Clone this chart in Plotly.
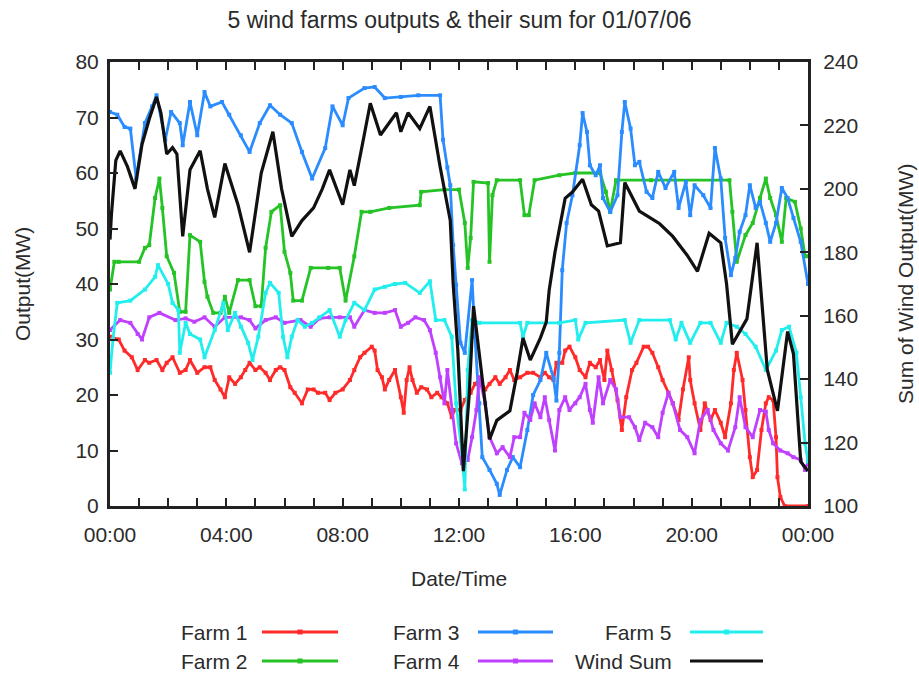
import pandas as pd
import plotly.graph_objects as go

# ---------------- data (hours after midnight, MW) ----------------
sum_t = [0, 0.05, 0.2, 0.35, 0.6, 0.86, 1.1, 1.35, 1.6, 1.75, 1.95, 2.15, 2.3, 2.5, 2.75, 3.1, 3.35, 3.6, 3.95,
         4.4, 4.8, 5.2, 5.6, 5.9, 6.25, 6.6, 7.0, 7.3, 7.55, 8.0, 8.25, 8.4, 8.7, 8.95, 9.3, 9.6, 9.85, 10.0,
         10.25, 10.65, 11.0, 11.35, 11.7, 11.8, 11.96, 12.15, 12.35, 12.5, 12.7, 13.05, 13.3, 13.75, 14.0, 14.2,
         14.45, 14.8, 15.0, 15.1, 15.3, 15.5, 15.65, 15.9, 16.25, 16.55, 16.8, 17.1, 17.55, 17.7, 18.2, 18.55,
         18.9, 19.35, 19.85, 20.2, 20.6, 21.0, 21.2, 21.4, 21.9, 22.25, 22.6, 22.95, 23.3, 23.5, 23.75, 24.0]
sum_v = [184, 192, 209, 212, 207, 200, 214, 222, 229, 224, 211, 213, 211, 185, 206, 212, 200, 191, 208,
         195, 180, 205, 218, 200, 185, 190, 194, 200, 206, 195, 206, 201, 215, 227, 217, 221, 224, 218,
         224, 219, 226, 207, 190, 170, 149, 111, 135, 163, 148, 121, 127, 130, 142, 153,
         146, 153, 158, 168, 180, 190, 197, 199, 203, 195, 193, 182, 183, 202, 193, 191,
         189, 185, 179, 174, 186, 183, 170, 151, 159, 183, 143, 130, 155, 148, 114, 111]

f3_t = [0, 0.25, 0.5, 0.7, 0.9, 1.2, 1.45, 1.6, 1.9, 2.1, 2.4, 2.5, 2.75, 3.0, 3.25, 3.45, 3.85, 4.1, 4.5, 4.8,
        5.15, 5.5, 5.85, 6.25, 6.6, 6.95, 7.4, 7.65, 8.0, 8.2, 8.75, 9.1, 9.45, 10.0, 10.6, 11.35, 11.45, 11.6,
        11.7, 11.8, 11.9, 12.05, 12.2, 12.45, 12.55, 12.7, 12.8, 13.05, 13.3, 13.4, 13.65, 13.85, 14.1, 14.35,
        14.55, 14.8, 15.0, 15.25, 15.35, 15.45, 15.55, 15.7, 15.9, 16.15, 16.25, 16.4, 16.5, 16.7, 16.85, 16.95,
        17.2, 17.45, 17.6, 17.7, 17.9, 18.05, 18.2, 18.45, 18.65, 18.85, 19.1, 19.4, 19.55, 19.8, 19.95, 20.1,
        20.4, 20.65, 20.8, 21.0, 21.15, 21.35, 21.5, 21.65, 21.85, 22.0, 22.2, 22.35, 22.55, 22.7, 22.9, 23.1,
        23.3, 23.5, 23.75, 24.0]
f3_v = [71, 70.5, 68.3, 68, 59, 69, 72, 74, 66, 71, 69, 65, 72.8, 66.8, 74.6, 72, 72.8, 70.5, 66.8, 63.8,
        69, 72.2, 70.5, 69, 63.8, 59, 64.5, 72, 68.6, 73.5, 75.3, 75.5, 73.5, 73.7, 74, 74, 66, 61,
        57.8, 47, 39.8, 29.4, 27.6, 40.7, 30.5, 18.5, 8.8, 6.5, 4, 2, 6.5, 8.8, 7, 13.7,
        20, 22.7, 27.6, 23, 19, 27.6, 42.5, 51, 56, 65, 70.8, 67.4, 61.4, 59.6, 61.4, 55.5,
        53, 56, 67.4, 72.8, 68, 61.4, 62, 56.6, 55.5, 60.2, 57.3, 60.2, 53.7, 58.4, 52.4, 57.8,
        56, 53.7, 64.5, 59, 48.3, 41.6, 44.7, 49.4, 52.4, 57.8, 53.7, 54.8, 51, 47.6, 51, 57.3,
        55.5, 51.9, 47.6, 40]

f2_t = [0, 0.15, 0.3, 1.0, 1.2, 1.35, 1.55, 1.7, 1.8, 1.95, 2.2, 2.4, 2.6, 2.75, 3.1, 3.25, 3.35, 3.55, 3.8,
        3.95, 4.1, 4.4, 4.8, 5.0, 5.2, 5.35, 5.55, 5.85, 6.0, 6.2, 6.3, 6.6, 6.9, 7.5, 7.9, 8.1, 8.4, 8.65,
        8.95, 9.6, 10.65, 10.7, 11.5, 12.0, 12.2, 12.3, 12.4, 12.5, 13.0, 13.05, 13.15, 13.3, 14.1, 14.25,
        14.4, 14.6, 15.45, 16.0, 16.85, 17.05, 17.2, 17.4, 18.6, 21.3, 21.4, 21.55, 21.85, 22.1, 22.35, 22.55,
        22.7, 22.9, 23.1, 23.25, 23.55, 23.75, 23.9, 24.0]
f2_v = [39, 44, 44, 44, 46.5, 47, 55.5, 59, 53.7, 45, 42, 35, 35, 48.8, 47.6, 40.4, 37.7, 34.8, 34.8,
        37.7, 34.8, 40.7, 40.7, 36, 36, 46.5, 53, 54.2, 45.8, 42, 37, 37, 42.9, 42.9, 42.9, 37, 45, 53,
        53, 53.7, 54.2, 56.6, 57, 57, 51, 42.9, 48.3, 58.4, 58.2, 44, 56, 58.7, 58.7, 52.4,
        52.4, 58.7, 59.6, 60, 60, 56.6, 53, 58.7, 58.7, 58.7, 53, 44, 48.8, 51, 55.5, 59,
        55.5, 52.4, 47.6, 55.5, 54.8, 50, 45, 45]

f5_t = [0, 0.1, 0.25, 0.7, 1.2, 1.55, 1.65, 2.0, 2.15, 2.35, 2.4, 2.6, 2.75, 3.1, 3.25, 3.6, 3.9, 4.05, 4.3,
        4.5, 4.75, 4.9, 5.1, 5.35, 5.5, 5.8, 5.95, 6.1, 6.25, 6.45, 6.7, 6.95, 7.2, 7.55, 7.9, 8.1, 8.4, 8.75,
        9.1, 9.45, 9.8, 10.15, 10.65, 11.0, 11.2, 11.5, 11.75, 11.9, 12.1, 12.2, 12.3, 12.45, 12.7, 14.1, 14.2,
        14.35, 15.45, 16.0, 16.1, 16.35, 17.7, 17.9, 18.2, 19.25, 19.45, 19.65, 19.95, 20.3, 20.65, 21.0, 21.2,
        21.55, 21.85, 22.2, 22.55, 22.9, 23.1, 23.35, 23.6, 23.75, 23.9, 24.0]
f5_v = [24, 30, 36.6, 37, 39, 41.3, 43.4, 40, 36.6, 35.3, 27.6, 33, 31, 30, 26.8, 31.7, 36.6, 31.7, 34.8,
        32.3, 29.4, 26.3, 30.5, 38.4, 40.2, 38.4, 30.5, 26.8, 30.5, 33.5, 32.3, 33, 34, 35.3, 30.5, 33.5, 36.6, 35.3,
        39, 39.5, 40, 40.2, 38.4, 40.5, 33.5, 33.5, 30.5, 18.5, 9.5, 3, 24.5, 33.5, 33, 33, 30.5,
        33, 33, 33.5, 30, 33, 33.5, 29.4, 33.5, 33.5, 30, 33, 29.4, 33, 33, 29.4, 33,
        32.3, 31, 28.7, 24.5, 28, 31.7, 32.3, 27.6, 19.6, 11.3, 8]

f4_t = [0, 0.35, 0.7, 0.95, 1.1, 1.35, 1.7, 2.25, 2.6, 2.9, 3.25, 3.6, 3.95, 4.5, 4.8, 5.0, 5.35, 5.7, 6.0,
        6.55, 6.9, 7.2, 7.55, 7.9, 8.25, 8.4, 8.75, 9.1, 9.45, 9.8, 10.0, 10.25, 10.5, 10.8, 11.0, 11.2, 11.35,
        11.5, 11.6, 11.75, 11.9, 12.1, 12.3, 12.45, 12.6, 12.7, 12.9, 13.05, 13.3, 13.5, 13.75, 13.9, 14.1,
        14.25, 14.45, 14.6, 14.8, 14.95, 15.1, 15.3, 15.45, 15.65, 15.8, 16.0, 16.15, 16.35, 16.5, 16.6, 16.8,
        16.95, 17.2, 17.4, 17.55, 17.85, 18.05, 18.2, 18.4, 18.65, 18.85, 19.0, 19.2, 19.35, 19.6, 19.85, 20.1,
        20.3, 20.55, 20.75, 21.0, 21.25, 21.5, 21.65, 21.85, 22.1, 22.35, 22.55, 22.65, 22.8, 23.05, 23.3,
        23.5, 23.75, 23.9, 24.0]
f4_v = [31.7, 33.5, 33, 31, 30, 34, 34.8, 33.5, 33.8, 33.2, 34, 32.3, 34, 34, 33.5, 32, 33.5, 34, 33,
        33.5, 32.3, 33.8, 34, 34, 34, 32.3, 35.3, 34.8, 34.8, 35.3, 32.3, 33, 34, 33.5, 31.7, 27.6, 23.2,
        18.5, 24.5, 17.3, 11.3, 7.7, 8.3, 12.4, 17.3, 23.2, 18.5, 12.4, 9.5, 10.6, 8.8, 12.4, 12.4,
        16.8, 15.5, 18.5, 16, 19.6, 15.5, 10, 17.3, 19.6, 17.3, 18.5, 19.6, 22, 17.3, 15, 23.2,
        18.5, 22.7, 21, 16, 16, 14.2, 11.9, 15, 14.2, 12.4, 16.8, 20.4, 18.5, 13.7, 12.4, 9.5,
        15.5, 17.3, 13.7, 11.3, 10, 14.2, 19.6, 14.2, 12.4, 17.3, 17, 13.7, 11.3, 10, 9.5,
        8.8, 8.3, 6.5, 8]

f1_t = [0, 0.3, 0.5, 0.75, 0.95, 1.2, 1.35, 1.6, 1.8, 1.95, 2.15, 2.4, 2.6, 2.75, 3.0, 3.25, 3.45, 3.6, 3.8,
        3.95, 4.1, 4.3, 4.5, 4.65, 4.8, 5.0, 5.15, 5.35, 5.5, 5.7, 5.85, 6.0, 6.2, 6.35, 6.6, 6.8, 7.0, 7.15,
        7.4, 7.55, 7.75, 8.0, 8.25, 8.4, 8.6, 8.75, 9.0, 9.1, 9.2, 9.35, 9.45, 9.6, 9.8, 10.0, 10.1, 10.2,
        10.3, 10.4, 10.55, 10.7, 10.9, 11.05, 11.25, 11.4, 11.6, 11.75, 11.85, 12.05, 12.2, 12.4, 12.55, 12.7,
        12.9, 13.05, 13.25, 13.4, 13.6, 13.75, 13.9, 14.1, 14.35, 14.55, 14.8, 14.95, 15.1, 15.25, 15.35,
        15.55, 15.65, 15.8, 16.0, 16.15, 16.35, 16.5, 16.7, 16.85, 17.0, 17.1, 17.25, 17.45, 17.6, 17.75,
        17.95, 18.1, 18.35, 18.5, 18.65, 18.85, 19.0, 19.2, 19.35, 19.55, 19.7, 19.9, 19.95, 20.1, 20.3,
        20.45, 20.65, 20.8, 21.0, 21.15, 21.35, 21.45, 21.55, 21.75, 21.85, 22.0, 22.1, 22.25, 22.4, 22.55,
        22.65, 22.8, 22.9, 22.95, 23.05, 23.2, 24.0]
f1_v = [30.5, 30, 28, 26.8, 24.5, 26.3, 25.8, 26.3, 24.5, 25.8, 26.8, 24, 24.5, 26.3, 24, 25, 25, 22.7, 21,
        19.6, 23.2, 22, 23.2, 24.5, 25.8, 24.5, 25, 24, 22.7, 24.5, 25, 24.5, 21.4, 20.4, 18.5, 21, 21, 20.4,
        20.4, 19.1, 20.4, 21, 22.7, 24.5, 26.8, 27.6, 28.7, 28, 24.5, 23.2, 21, 22.7, 24.5, 19.6, 16.8, 22.7,
        25, 22.7, 20.4, 21.4, 21, 19.6, 20.4, 19.6, 18.5, 16, 17.3, 17.3, 19.1, 20.4, 22, 22.7,
        21, 22, 23.2, 22, 23.2, 24.5, 22.7, 23.2, 24, 24, 23.2, 24, 23.2, 22.7, 25.8,
        25.8, 28, 28.7, 26.8, 24.5, 23.2, 25.8, 25, 26.3, 22.7, 28, 24.5, 19.1, 13.7, 19.6,
        24.5, 25.8, 28.7, 28.7, 27.6, 25, 22.7, 20.4, 18.5, 15.5, 21, 26.8, 22.7, 18.5, 13.7,
        18.5, 15.5, 17.3, 15, 12.4, 18.5, 24.5, 27.6, 22.7, 17.3, 8.8, 5.2, 6.5, 13.7, 18.5,
        19.6, 19.1, 12.4, 5.2, 1.6, 0, 0]

for a, b in [(sum_t, sum_v), (f1_t, f1_v), (f2_t, f2_v), (f3_t, f3_v), (f4_t, f4_v), (f5_t, f5_v)]:
    assert len(a) == len(b), (len(a), len(b))

tick_labels = ["00:00", "04:00", "08:00", "12:00", "16:00", "20:00", "00:00"]
tick_hours = [0, 4, 8, 12, 16, 20, 24]

BASE = pd.Timestamp("2006-07-01 00:00")


def to_dt(hours):
    return [BASE + pd.Timedelta(hours=h) for h in hours]


FONT = "Liberation Sans, Arial, sans-serif"
TXT = "#2b2b2b"
FS = 21

series = [
    ("Farm 1", f1_t, f1_v, "#ff2a2a"),
    ("Farm 2", f2_t, f2_v, "#25c325"),
    ("Farm 3", f3_t, f3_v, "#2a8cff"),
    ("Farm 4", f4_t, f4_v, "#c040ff"),
    ("Farm 5", f5_t, f5_v, "#22eeee"),
]

fig = go.Figure()
for name, t, v, col in series:
    fig.add_trace(go.Scatter(x=to_dt(t), y=v, name=name, mode="lines+markers",
                             line=dict(color=col, width=2.8),
                             marker=dict(color=col, size=4, symbol="square"),
                             showlegend=False))
fig.add_trace(go.Scatter(x=to_dt(sum_t), y=sum_v, name="Wind Sum", mode="lines",
                         line=dict(color="#111111", width=3.2), yaxis="y2", showlegend=False))

W, H = 919, 674
L, R, T, B = 110, 808, 62, 506


def px(x):
    return (x - L) / (R - L)


def py(y):
    return (B - y) / (B - T)


# legend (gnuplot style: label then sample)
leg = [("Farm 1", 250, 262, 338, 632, "#ff2a2a", True),
       ("Farm 3", 462, 478, 553, 632, "#2a8cff", True),
       ("Farm 5", 674, 690, 763, 632, "#22eeee", True),
       ("Farm 2", 250, 262, 338, 661, "#25c325", True),
       ("Farm 4", 462, 478, 553, 661, "#c040ff", True),
       ("Wind Sum", 674, 690, 763, 661, "#111111", False)]
annotations = []
shapes = []
for name, tx, x0, x1, y, col, dot in leg:
    annotations.append(dict(text=name, x=px(tx), y=py(y), xref="paper", yref="paper",
                            xanchor="right", yanchor="middle", showarrow=False,
                            font=dict(size=FS, color=TXT, family=FONT)))
    shapes.append(dict(type="line", xref="paper", yref="paper", x0=px(x0), x1=px(x1),
                       y0=py(y), y1=py(y), line=dict(color=col, width=3)))
    if dot:
        xm = (x0 + x1) / 2
        shapes.append(dict(type="rect", xref="paper", yref="paper", x0=px(xm - 2.5), x1=px(xm + 2.5),
                           y0=py(y + 2.5), y1=py(y - 2.5), fillcolor=col, line=dict(width=0)))

annotations += [
    dict(text="Output(MW)", x=px(22), y=0.5, xref="paper", yref="paper", textangle=-90,
         xanchor="center", yanchor="middle",
         showarrow=False, font=dict(size=FS, color=TXT, family=FONT)),
    dict(text="Sum of Wind Output(MW)", x=px(905), y=0.5, xref="paper", yref="paper", textangle=-90,
         xanchor="center", yanchor="middle",
         showarrow=False, font=dict(size=FS, color=TXT, family=FONT)),
    dict(text="Date/Time", x=0.5, y=py(578), xref="paper", yref="paper",
         xanchor="center", yanchor="middle",
         showarrow=False, font=dict(size=FS, color=TXT, family=FONT)),
]

fig.update_layout(
    width=W, height=H,
    margin=dict(l=L, r=W - R, t=T, b=H - B),
    paper_bgcolor="white", plot_bgcolor="white",
    font=dict(family=FONT, size=FS, color=TXT),
    title=dict(text="5 wind farms outputs & their sum for 01/07/06", x=0.5, xanchor="center",
               y=1 - 20 / H, yanchor="middle", yref="container",
               font=dict(size=23, color=TXT, family=FONT)),
    xaxis=dict(type="date", range=[to_dt([0])[0], to_dt([24])[0]],
               tickvals=to_dt(tick_hours), ticktext=tick_labels,
               ticks="inside", ticklen=8, tickwidth=2, tickcolor="#222",
               minor=dict(dtick=3600000, ticks="inside", ticklen=4, tickwidth=2, tickcolor="#222"),
               showline=True, linecolor="#222", linewidth=3, mirror="allticks",
               ticklabelstandoff=8,
               showgrid=False, zeroline=False, tickfont=dict(size=FS, color=TXT)),
    yaxis=dict(range=[0, 80], dtick=10, ticks="inside", ticklen=8, tickwidth=2, tickcolor="#222",
               showline=True, linecolor="#222", linewidth=3, showgrid=False, zeroline=False,
               ticklabelstandoff=4,
               tickfont=dict(size=FS, color=TXT)),
    yaxis2=dict(range=[100, 240], dtick=20, overlaying="y", side="right",
                ticks="inside", ticklen=8, tickwidth=2, tickcolor="#222",
                showline=True, linecolor="#222", linewidth=3, showgrid=False, zeroline=False,
                ticklabelstandoff=8,
                tickfont=dict(size=FS, color=TXT)),
    annotations=annotations, shapes=shapes,
)

fig.write_html("out.html")
